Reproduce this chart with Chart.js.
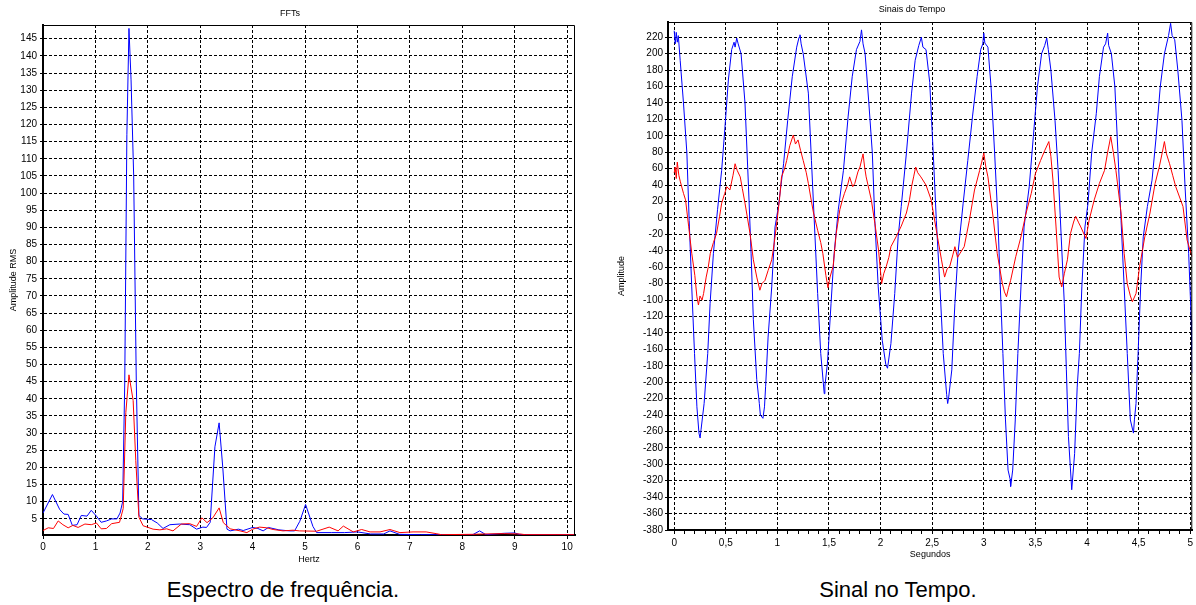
<!DOCTYPE html>
<html>
<head>
<meta charset="utf-8">
<script src="https://cdn.jsdelivr.net/npm/chart.js@4.4.1/dist/chart.umd.min.js"></script>
<style>
  body { margin: 0; background: #fff; width: 1196px; height: 605px; position: relative; overflow: hidden; }
  canvas { position: absolute; top: 0; }
  #fft { left: 0; }
  #tempo { left: 600px; }
  .caption { position: absolute; top: 578px; font-family: 'Liberation Sans', Arial, sans-serif; font-size: 22px; line-height: 24px; color: #000; text-align: center; width: 400px; }
</style>
</head>
<body>
<canvas id="fft" width="580" height="575"></canvas>
<canvas id="tempo" width="596" height="575"></canvas>
<div class="caption" style="left:83px">Espectro de frequência.</div>
<div class="caption" style="left:698px">Sinal no Tempo.</div>
<script>
// FFT - amplitude RMS por frequencia
const fftBlueHz  = [0, 0.18, 0.32, 0.40, 0.48, 0.56, 0.65, 0.73, 0.84, 0.92, 1.02, 1.11, 1.21, 1.31, 1.41, 1.47, 1.52, 1.56, 1.60, 1.64, 1.68, 1.73, 1.78, 1.83, 1.90, 2.07, 2.18, 2.29, 2.42, 2.61, 2.80, 2.93, 3.05, 3.12, 3.19, 3.28, 3.36, 3.43, 3.51, 3.57, 3.73, 3.82, 4.00, 4.10, 4.20, 4.30, 4.50, 4.70, 4.80, 4.90, 5.01, 5.15, 5.22, 5.50, 5.75, 6.00, 6.25, 6.50, 6.62, 6.80, 7.20, 8.20, 8.33, 8.45, 8.80, 9.00, 9.10, 9.80, 10.15];
const fftBlueAmp = [6.7, 12.1, 7.7, 6.4, 6.3, 3.1, 3.3, 6.0, 5.8, 7.5, 5.8, 4.0, 4.4, 5.0, 5.0, 6.7, 10, 45, 117, 148, 133, 105, 45, 6, 5, 4.8, 3.8, 2.2, 3.3, 3.5, 3.3, 2.0, 2.6, 2.5, 4.0, 26, 33, 20, 2.0, 1.5, 2.0, 1.6, 2.5, 2.2, 1.5, 2.5, 1.8, 1.5, 1.5, 4.3, 9.2, 2.8, 1.0, 1.0, 1.0, 1.2, 0.6, 0.6, 1.5, 0.5, 0.4, 0.4, 1.5, 0.4, 0.8, 0.9, 0.4, 0.4, 0.4];
const fftRedHz   = [0, 0.10, 0.20, 0.29, 0.38, 0.48, 0.57, 0.67, 0.80, 0.92, 1.02, 1.11, 1.21, 1.31, 1.46, 1.53, 1.58, 1.64, 1.72, 1.77, 1.83, 1.91, 2.10, 2.23, 2.36, 2.48, 2.64, 2.80, 2.93, 3.03, 3.13, 3.24, 3.36, 3.44, 3.57, 3.76, 3.89, 4.00, 4.13, 4.27, 4.39, 4.58, 4.77, 4.89, 5.22, 5.46, 5.63, 5.73, 5.92, 6.08, 6.24, 6.43, 6.62, 6.81, 7.06, 7.31, 7.50, 7.60, 8.20, 8.40, 8.80, 9.10, 9.20, 10.15];
const fftRedAmp  = [1.6, 2.4, 2.2, 4.4, 3.3, 2.4, 3.1, 2.5, 3.5, 3.3, 3.8, 2.1, 2.2, 3.6, 4.0, 8, 36, 47, 39.5, 22, 5.5, 3.0, 2.0, 1.8, 2.1, 1.5, 3.5, 3.6, 2.8, 5.3, 3.9, 5.3, 8.2, 3.9, 2.1, 1.5, 1.0, 2.0, 2.6, 2.4, 1.9, 1.5, 1.7, 1.5, 1.4, 2.6, 1.5, 2.9, 1.2, 1.9, 1.2, 1.2, 1.9, 1.0, 1.2, 1.2, 0.7, 0.4, 0.5, 0.6, 0.7, 0.6, 0.4, 0.4];

// Sinais do tempo (segundos, amplitude)
const blueT = [0.00, 0.01, 0.02, 0.03, 0.04, 0.058, 0.09, 0.123, 0.145, 0.17, 0.197, 0.22, 0.24, 0.251, 0.26, 0.29, 0.325, 0.348, 0.38, 0.42, 0.46, 0.49, 0.525, 0.557, 0.58, 0.59, 0.606, 0.62, 0.648, 0.686, 0.72, 0.745, 0.767, 0.80, 0.825, 0.835, 0.86, 0.875, 0.886, 0.91, 0.945, 0.977, 1.01, 1.06, 1.10, 1.144, 1.187, 1.21, 1.219, 1.23, 1.25, 1.30, 1.33, 1.36, 1.39, 1.42, 1.454, 1.46, 1.485, 1.52, 1.55, 1.59, 1.64, 1.685, 1.725, 1.766, 1.80, 1.815, 1.83, 1.85, 1.886, 1.92, 1.944, 1.977, 2.016, 2.05, 2.067, 2.10, 2.137, 2.17, 2.20, 2.25, 2.30, 2.335, 2.37, 2.395, 2.41, 2.44, 2.476, 2.51, 2.54, 2.575, 2.607, 2.64, 2.65, 2.66, 2.69, 2.72, 2.75, 2.80, 2.845, 2.89, 2.935, 2.97, 2.99, 3.00, 3.01, 3.04, 3.07, 3.105, 3.137, 3.16, 3.185, 3.21, 3.235, 3.255, 3.26, 3.28, 3.305, 3.33, 3.36, 3.39, 3.44, 3.48, 3.52, 3.56, 3.59, 3.61, 3.625, 3.65, 3.69, 3.72, 3.75, 3.78, 3.80, 3.82, 3.852, 3.88, 3.905, 3.926, 3.95, 3.98, 4.01, 4.045, 4.09, 4.12, 4.16, 4.18, 4.20, 4.21, 4.236, 4.27, 4.30, 4.33, 4.36, 4.39, 4.42, 4.45, 4.46, 4.475, 4.495, 4.52, 4.545, 4.585, 4.63, 4.67, 4.71, 4.75, 4.79, 4.81, 4.825, 4.85, 4.88, 4.92, 4.95, 4.985, 5.01, 5.015, 5.02];
const blueV = [228, 212, 226, 214, 222, 192, 140, 79, -3, -84, -165, -230, -262, -268, -258, -226, -165, -104, -43, 10, 58, 107, 168, 205, 214, 208, 219, 212, 200, 140, 38, -43, -124, -197, -226, -240, -244, -230, -205, -145, -84, -11, 14, 66, 119, 172, 208, 220, 223, 212, 200, 152, 70, -11, -92, -165, -214, -205, -177, -104, -43, 10, 58, 123, 172, 205, 215, 229, 212, 200, 140, 79, -3, -84, -149, -178, -183, -153, -92, -23, 14, 79, 152, 192, 210, 220, 208, 205, 165, 79, -3, -84, -165, -215, -226, -218, -185, -104, -43, 18, 70, 123, 172, 205, 212, 225, 213, 208, 160, 79, -3, -84, -165, -246, -307, -318, -327, -307, -246, -165, -84, -11, 38, 99, 160, 200, 210, 219, 205, 180, 119, 58, -23, -104, -185, -266, -331, -287, -206, -165, -84, -11, 18, 79, 127, 172, 208, 212, 225, 210, 200, 160, 79, -3, -84, -165, -246, -262, -245, -226, -165, -84, -23, 14, 46, 99, 160, 200, 222, 237, 222, 217, 180, 119, 38, -43, -124, -160, -189];
const redT = [0.00, 0.01, 0.02, 0.03, 0.045, 0.06, 0.09, 0.11, 0.14, 0.17, 0.20, 0.22, 0.235, 0.25, 0.27, 0.285, 0.31, 0.33, 0.35, 0.38, 0.41, 0.44, 0.46, 0.49, 0.51, 0.54, 0.57, 0.59, 0.61, 0.64, 0.66, 0.686, 0.71, 0.735, 0.767, 0.80, 0.83, 0.85, 0.88, 0.91, 0.945, 0.97, 0.99, 1.02, 1.04, 1.07, 1.09, 1.12, 1.154, 1.175, 1.20, 1.225, 1.25, 1.28, 1.30, 1.33, 1.35, 1.39, 1.42, 1.44, 1.47, 1.49, 1.51, 1.54, 1.57, 1.605, 1.63, 1.65, 1.68, 1.70, 1.73, 1.75, 1.78, 1.80, 1.83, 1.845, 1.86, 1.91, 1.945, 1.98, 2.01, 2.03, 2.055, 2.08, 2.10, 2.15, 2.20, 2.25, 2.28, 2.30, 2.32, 2.34, 2.36, 2.39, 2.44, 2.49, 2.54, 2.59, 2.62, 2.645, 2.67, 2.70, 2.72, 2.745, 2.77, 2.81, 2.86, 2.91, 2.96, 2.98, 3.00, 3.02, 3.04, 3.09, 3.13, 3.18, 3.20, 3.22, 3.24, 3.26, 3.31, 3.36, 3.41, 3.46, 3.50, 3.55, 3.59, 3.63, 3.65, 3.67, 3.70, 3.73, 3.755, 3.78, 3.81, 3.84, 3.87, 3.89, 3.92, 3.94, 3.99, 4.02, 4.07, 4.12, 4.17, 4.20, 4.23, 4.255, 4.28, 4.33, 4.36, 4.39, 4.42, 4.44, 4.475, 4.51, 4.56, 4.61, 4.66, 4.70, 4.73, 4.75, 4.77, 4.80, 4.83, 4.86, 4.93, 4.97, 5.00, 5.02];
const redV = [55, 62, 48, 68, 52, 44, 30, 22, -10, -43, -70, -96, -106, -95, -100, -92, -72, -60, -43, -30, -19, 2, 18, 30, 38, 34, 52, 66, 58, 50, 36, 18, 0, -19, -51, -72, -88, -80, -76, -64, -51, -30, -10, 22, 50, 60, 70, 88, 101, 90, 95, 82, 70, 55, 42, 20, 6, -15, -30, -43, -70, -85, -72, -59, -19, 10, 22, 30, 40, 50, 38, 42, 56, 62, 78, 62, 50, 22, -7, -39, -80, -68, -59, -48, -35, -23, -10, 6, 22, 38, 50, 62, 55, 50, 40, 22, -15, -51, -72, -62, -59, -45, -35, -48, -43, -35, -3, 34, 58, 68, 79, 62, 50, 1, -43, -80, -90, -96, -85, -76, -47, -23, 6, 30, 54, 70, 82, 93, 75, 46, -11, -72, -84, -68, -51, -19, -5, 2, -6, -11, -25, -3, 22, 42, 58, 80, 99, 80, 58, 6, -43, -80, -95, -102, -92, -59, -23, 6, 42, 62, 80, 93, 78, 66, 52, 38, 14, -27, -40, -47];

const pts = (xs, ys) => xs.map((x, i) => ({ x: x, y: ys[i] }));

Chart.defaults.font.family = "'Liberation Sans', Arial, sans-serif";
Chart.defaults.font.size = 10;
Chart.defaults.color = '#000';

// moldura fina em cima e a direita
const frame = {
  id: 'frame',
  afterDatasetsDraw(chart) {
    const a = chart.chartArea, c = chart.ctx;
    c.save();
    c.strokeStyle = '#000';
    c.lineWidth = 1;
    c.beginPath();
    c.moveTo(a.left, a.top + 0.5);
    c.lineTo(a.right - 0.5, a.top + 0.5);
    c.lineTo(a.right - 0.5, a.bottom);
    c.stroke();
    c.restore();
  }
};

const lineSet = (data, color) => ({
  data: data, borderColor: color, borderWidth: 1, pointRadius: 0, tension: 0, fill: false
});

new Chart(document.getElementById('fft'), {
  type: 'line',
  data: {
    datasets: [
      lineSet(pts(fftRedHz, fftRedAmp), '#ff0000'),
      lineSet(pts(fftBlueHz, fftBlueAmp), '#0000ff')
    ]
  },
  options: {
    responsive: false,
    animation: false,
    devicePixelRatio: 1,
    layout: { padding: { left: 5, right: 5, top: 0, bottom: 0 } },
    plugins: {
      legend: { display: false },
      tooltip: { enabled: false },
      title: { display: true, text: 'FFTs', font: { size: 9, weight: 'normal' }, padding: { top: 8.6, bottom: 5.6 }, color: '#000' }
    },
    scales: {
      x: {
        type: 'linear', min: 0, max: 10.15,
        ticks: { stepSize: 1, includeBounds: false, padding: 2, maxRotation: 0 },
        grid: { color: '#000', tickLength: 4 },
        border: { color: '#000', width: 2, dash: [3, 2] },
        title: { display: true, text: 'Hertz', font: { size: 9 }, padding: { top: 0, bottom: 9.6 } },
        afterFit: s => { s.height = 40; }
      },
      y: {
        min: 0.3, max: 149,
        ticks: { stepSize: 5, includeBounds: false, padding: 3 },
        grid: { color: '#000', tickLength: 3 },
        border: { color: '#000', width: 2, dash: [3, 2] },
        title: { display: true, text: 'Amplitude RMS', font: { size: 9 }, padding: { top: 3.6, bottom: 0 } },
        afterFit: s => { s.width = 38; }
      }
    }
  },
  plugins: [frame]
});

const half = v => Math.abs(v * 2 - Math.round(v * 2)) < 1e-6;

new Chart(document.getElementById('tempo'), {
  type: 'line',
  data: {
    datasets: [
      lineSet(pts(redT, redV), '#ff0000'),
      lineSet(pts(blueT, blueV), '#0000ff')
    ]
  },
  options: {
    responsive: false,
    animation: false,
    devicePixelRatio: 1,
    layout: { padding: { left: 31, right: 3, top: 0, bottom: 0 } },
    plugins: {
      legend: { display: false },
      tooltip: { enabled: false },
      title: { display: true, text: 'Sinais do Tempo', font: { size: 9, weight: 'normal' }, padding: { top: 4.6, bottom: 6.6 }, color: '#000' }
    },
    scales: {
      x: {
        type: 'linear', min: -0.06, max: 5.02,
        ticks: {
          stepSize: 0.1, includeBounds: false, autoSkip: false, padding: 3, maxRotation: 0,
          callback: v => half(v) ? String(Math.round(v * 2) / 2).replace('.', ',') : ''
        },
        grid: {
          color: c => half(c.tick.value) ? '#000' : 'rgba(0,0,0,0)',
          tickColor: '#000', tickLength: 4
        },
        border: { color: '#000', width: 2, dash: [3, 2] },
        title: { display: true, text: 'Segundos', font: { size: 9 }, padding: { top: 0, bottom: 15.1 } },
        afterFit: s => { s.height = 45; }
      },
      y: {
        min: -380, max: 238.6,
        ticks: { stepSize: 20, includeBounds: false, padding: 2 },
        grid: { color: '#000', tickLength: 3 },
        border: { color: '#000', width: 2, dash: [3, 2] },
        title: { display: true, text: 'Amplitude', font: { size: 9 }, padding: { top: -14.4, bottom: 0 } },
        afterFit: s => { s.width = 37; }
      }
    }
  },
  plugins: [frame]
});
</script>
</body>
</html>
